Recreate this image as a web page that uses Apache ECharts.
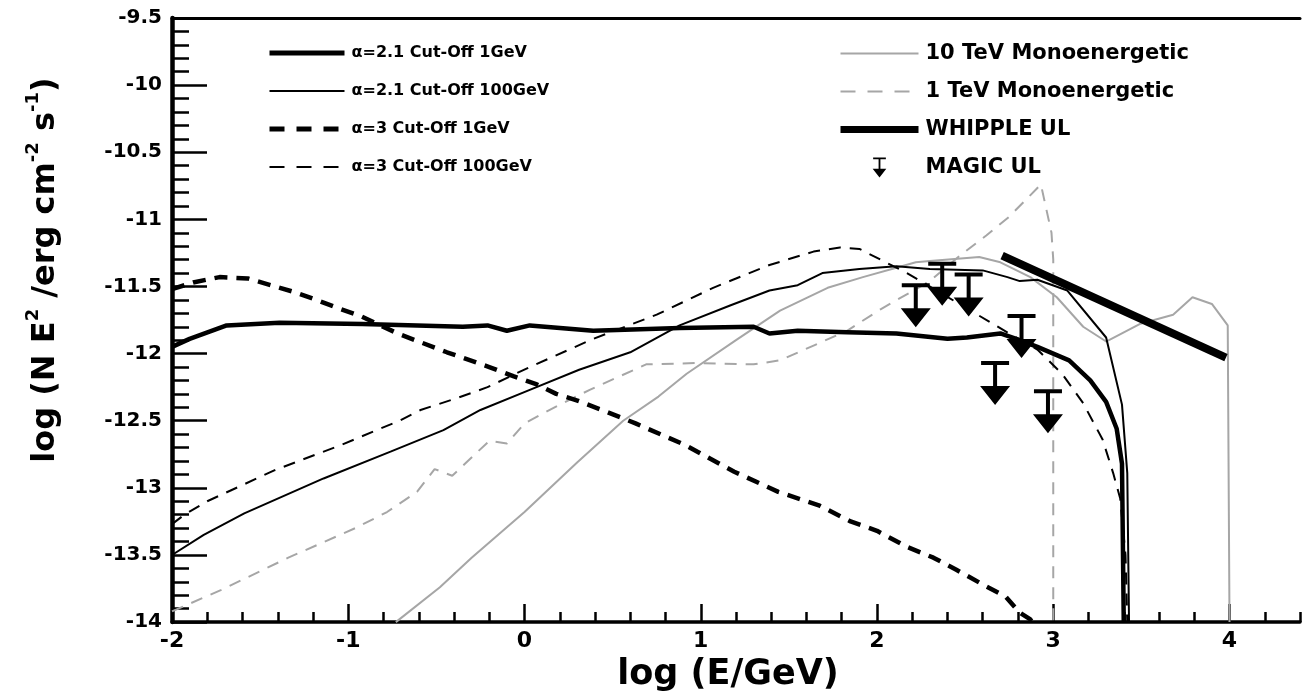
<!DOCTYPE html>
<html><head><meta charset="utf-8">
<script src="https://cdn.jsdelivr.net/npm/echarts@6/dist/echarts.min.js"></script>
<style>html,body{margin:0;padding:0;background:#fff}#c{width:1302px;height:697px}</style>
</head><body><div id="c"></div>
<script>
const FONT = "'DejaVu Sans', 'Liberation Sans', sans-serif";

// alpha=2.1 cut-off 1 GeV (thick solid)
const a21c1E = [-2,-1.9,-1.69,-1.39,-0.92,-0.35,-0.21,-0.10,0.03,0.39,0.88,1.30,1.39,1.55,1.83,2.11,2.40,2.51,2.70,2.79,2.91,3.09,3.21,3.30,3.36,3.39,3.40];
const a21c1F = [-11.95,-11.89,-11.79,-11.77,-11.78,-11.80,-11.79,-11.83,-11.79,-11.83,-11.81,-11.80,-11.85,-11.83,-11.84,-11.85,-11.89,-11.88,-11.85,-11.89,-11.95,-12.05,-12.20,-12.36,-12.56,-12.82,-14.0];
// alpha=2.1 cut-off 100 GeV (thin solid)
const a21c100E = [-2,-1.82,-1.59,-1.14,-0.76,-0.46,-0.25,0.03,0.31,0.60,0.88,1.17,1.39,1.55,1.69,1.90,2.11,2.30,2.60,2.74,2.81,2.91,3.08,3.30,3.39,3.42,3.43];
const a21c100F = [-13.5,-13.35,-13.19,-12.93,-12.73,-12.57,-12.42,-12.27,-12.12,-11.99,-11.79,-11.64,-11.53,-11.49,-11.40,-11.37,-11.35,-11.37,-11.38,-11.43,-11.46,-11.45,-11.53,-11.88,-12.38,-12.89,-14.0];
// alpha=3 cut-off 1 GeV (thick dashed)
const a3c1E = [-2,-1.88,-1.73,-1.57,-1.44,-1.31,-1.18,-1.06,-0.93,-0.72,-0.58,-0.44,-0.20,-0.06,0.07,0.18,0.30,0.44,0.63,0.91,1.19,1.44,1.67,1.85,2.0,2.17,2.32,2.45,2.60,2.73,2.81,2.87,2.92];
const a3c1F = [-11.52,-11.47,-11.43,-11.44,-11.49,-11.54,-11.60,-11.66,-11.72,-11.85,-11.92,-11.99,-12.10,-12.17,-12.23,-12.30,-12.35,-12.42,-12.52,-12.68,-12.88,-13.03,-13.13,-13.25,-13.32,-13.44,-13.52,-13.61,-13.72,-13.81,-13.93,-13.98,-14.08];
// alpha=3 cut-off 100 GeV (thin dashed)
const a3c100E = [-2,-1.93,-1.80,-1.42,-1.04,-0.71,-0.59,-0.38,-0.21,0.03,0.39,0.75,1.07,1.39,1.64,1.79,1.90,2.02,2.17,2.57,2.75,2.91,3.05,3.17,3.28,3.34,3.38,3.41,3.42];
const a3c100F = [-13.27,-13.2,-13.10,-12.87,-12.68,-12.50,-12.42,-12.33,-12.25,-12.10,-11.89,-11.71,-11.51,-11.34,-11.24,-11.21,-11.22,-11.30,-11.40,-11.71,-11.85,-11.97,-12.15,-12.37,-12.64,-12.89,-13.08,-13.5,-14.0];
// 10 TeV monoenergetic (grey solid)
const mono10E = [-0.73,-0.48,-0.30,0.0,0.30,0.56,0.76,0.92,1.20,1.45,1.72,1.92,2.11,2.22,2.30,2.58,2.70,2.87,3.02,3.17,3.30,3.49,3.68,3.79,3.90,3.99,4.0];
const mono10F = [-14.0,-13.74,-13.52,-13.18,-12.81,-12.50,-12.32,-12.15,-11.90,-11.68,-11.51,-11.43,-11.36,-11.32,-11.31,-11.28,-11.32,-11.43,-11.58,-11.80,-11.91,-11.78,-11.71,-11.58,-11.63,-11.79,-14.0];
// 1 TeV monoenergetic (grey dashed)
const mono1E = [-2,-1.72,-1.34,-0.96,-0.78,-0.61,-0.51,-0.41,-0.20,-0.10,0.0,0.20,0.37,0.69,0.98,1.30,1.45,1.64,1.83,2.02,2.30,2.47,2.62,2.75,2.93,2.99,3.0,3.0];
const mono1F = [-13.92,-13.76,-13.52,-13.30,-13.18,-13.03,-12.86,-12.91,-12.65,-12.67,-12.52,-12.38,-12.27,-12.08,-12.07,-12.08,-12.05,-11.94,-11.83,-11.67,-11.46,-11.27,-11.12,-10.98,-10.74,-11.1,-11.3,-14.0];
// WHIPPLE upper limit
const whippleE = [2.71,3.98];
const whippleF = [-11.27,-12.03];
// MAGIC upper limits (top of bar)
const magicE = [2.22,2.37,2.52,2.82,2.67,2.97];
const magicF = [-11.475,-11.315,-11.395,-11.705,-12.055,-12.265];

const xTickLabels = [-2,-1,0,1,2,3,4];
const legendLeft = ['\u03b1=2.1 Cut-Off 1GeV','\u03b1=2.1 Cut-Off 100GeV','\u03b1=3 Cut-Off 1GeV','\u03b1=3 Cut-Off 100GeV'];
const legendRight = ['10 TeV Monoenergetic','1 TeV Monoenergetic','WHIPPLE UL','MAGIC UL'];

const ARROW = 'path://M1,0 L29,0 L29,4 L17,4 L17,25 L30,25 L15,44 L0,25 L13,25 L13,4 L1,4 Z';
const GREY = '#a6a6a6';
function zip(a,b){return a.map((v,i)=>[v,b[i]]);}

const chart = echarts.init(document.getElementById('c'), null, {renderer:'canvas'});
const base = {min:-2, max:4.4};
const hideSym = {opacity:0};
chart.setOption({
  animation:false,
  backgroundColor:'#fff',
  grid:{left:172, right:2, top:18, bottom:69, containLabel:false},
  legend:[
    {left:262, top:40, orient:'vertical', itemWidth:75, itemHeight:20, itemGap:22, selectedMode:false,
     textStyle:{fontFamily:FONT, fontWeight:'bold', fontSize:16, color:'#000', padding:[0,0,0,2]},
     data:[
       {name:legendLeft[0], itemStyle:hideSym, lineStyle:{width:5, type:'solid', color:'#000'}},
       {name:legendLeft[1], itemStyle:hideSym, lineStyle:{width:2, type:'solid', color:'#000'}},
       {name:legendLeft[2], itemStyle:hideSym, lineStyle:{width:5, type:[15,12], color:'#000'}},
       {name:legendLeft[3], itemStyle:hideSym, lineStyle:{width:2.2, type:[15,12], color:'#000'}}
     ]},
    {left:832, top:38, orient:'vertical', itemWidth:78, itemHeight:20, itemGap:17, selectedMode:false,
     textStyle:{fontFamily:FONT, fontWeight:'bold', fontSize:21, color:'#000', padding:[0,0,0,2]},
     data:[
       {name:legendRight[0], itemStyle:hideSym, lineStyle:{width:2, type:'solid', color:GREY}},
       {name:legendRight[1], itemStyle:hideSym, lineStyle:{width:2, type:[15,12], color:GREY}},
       {name:legendRight[2], itemStyle:hideSym, lineStyle:{width:7, type:'solid', color:'#000'}},
       {name:legendRight[3], icon:ARROW, itemStyle:{color:'#000', opacity:1}}
     ]}
  ],
  xAxis:[
    Object.assign({type:'value', position:'bottom', interval:1,
      axisLine:{show:true, onZero:false, lineStyle:{color:'#000', width:3.5}},
      axisTick:{show:true, inside:true, length:18, lineStyle:{color:'#000', width:2.5}, customValues:xTickLabels},
      axisLabel:{show:true, margin:8, color:'#000', fontFamily:FONT, fontWeight:'bold', fontSize:22, customValues:xTickLabels},
      splitLine:{show:false},
      name:'log (E/GeV)', nameLocation:'middle', nameGap:24,
      nameTextStyle:{color:'#000', fontFamily:FONT, fontWeight:'bold', fontSize:35, padding:[0,16,0,0]}
    }, base),
    Object.assign({type:'value', position:'bottom', interval:0.2,
      axisLine:{show:false, onZero:false}, axisLabel:{show:false}, splitLine:{show:false},
      axisTick:{show:true, inside:true, length:10, lineStyle:{color:'#000', width:2.5}}
    }, base),
    Object.assign({type:'value', position:'top', interval:1,
      axisLine:{show:true, onZero:false, lineStyle:{color:'#000', width:3}},
      axisTick:{show:false}, axisLabel:{show:false}, splitLine:{show:false}
    }, base)
  ],
  yAxis:[
    {type:'value', min:-14, max:-9.5, interval:0.5, position:'left',
      axisLine:{show:true, onZero:false, lineStyle:{color:'#000', width:4.5}},
      axisTick:{show:true, inside:true, length:35, lineStyle:{color:'#000', width:2.5}},
      axisLabel:{show:true, margin:10, color:'#000', fontFamily:FONT, fontWeight:'bold', fontSize:20},
      splitLine:{show:false},
      name:'{a|log (N E}{s|2}{a| /erg cm}{s|-2}{a| s}{s|-1}{a|)}',
      nameLocation:'middle', nameGap:104, nameRotate:90,
      nameTextStyle:{color:'#000', fontFamily:FONT, fontWeight:'bold', fontSize:32, padding:[0,0,0,100],
        rich:{a:{fontFamily:FONT, fontWeight:'bold', fontSize:32, lineHeight:44, color:'#000'},
              s:{fontFamily:FONT, fontWeight:'bold', fontSize:18, lineHeight:18, color:'#000', verticalAlign:'top'}}}
    },
    {type:'value', min:-14, max:-9.5, interval:0.1, position:'left',
      axisLine:{show:false, onZero:false}, axisLabel:{show:false}, splitLine:{show:false},
      axisTick:{show:true, inside:true, length:17, lineStyle:{color:'#000', width:2.5}}
    }
  ],
  series:[
    {name:legendRight[0], type:'line', symbol:'none', data:zip(mono10E,mono10F), lineStyle:{color:GREY, width:2}, itemStyle:{color:GREY}, z:2},
    {name:legendRight[1], type:'line', symbol:'none', data:zip(mono1E,mono1F), lineStyle:{color:GREY, width:2, type:[12,9]}, itemStyle:{color:GREY}, z:2},
    {name:legendLeft[0], type:'line', symbol:'none', data:zip(a21c1E,a21c1F), lineStyle:{color:'#000', width:4.5}, itemStyle:{color:'#000'}, z:3},
    {name:legendLeft[1], type:'line', symbol:'none', data:zip(a21c100E,a21c100F), lineStyle:{color:'#000', width:2}, itemStyle:{color:'#000'}, z:3},
    {name:legendLeft[2], type:'line', symbol:'none', data:zip(a3c1E,a3c1F), lineStyle:{color:'#000', width:4.5, type:[13,9]}, itemStyle:{color:'#000'}, z:3},
    {name:legendLeft[3], type:'line', symbol:'none', data:zip(a3c100E,a3c100F), lineStyle:{color:'#000', width:2, type:[12,9]}, itemStyle:{color:'#000'}, z:3},
    {name:legendRight[2], type:'line', symbol:'none', data:zip(whippleE,whippleF), lineStyle:{color:'#000', width:8}, itemStyle:{color:'#000'}, z:4},
    {name:legendRight[3], type:'scatter', symbol:ARROW, symbolSize:[30,44], symbolOffset:[0,'50%'], data:zip(magicE,magicF), itemStyle:{color:'#000', opacity:1}, z:5}
  ]
});
</script></body></html>
